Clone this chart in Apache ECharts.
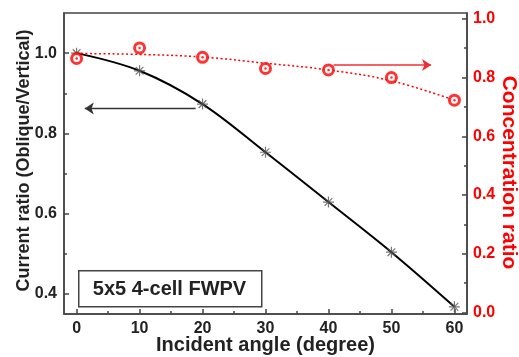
<!DOCTYPE html>
<html>
<head>
<meta charset="utf-8">
<script src="https://cdn.jsdelivr.net/npm/echarts@6/dist/echarts.min.js"></script>
<style>html,body{margin:0;padding:0;background:#fff;}#c{width:519px;height:357px;}</style>
</head>
<body>
<div id="c"></div>
<script>
// ---- data ----
var angles = [0, 10, 20, 30, 40, 50, 60];
var currentRatio = [1.0, 0.956, 0.873, 0.753, 0.629, 0.504, 0.368];
var concentrationRatio = [0.865, 0.901, 0.869, 0.831, 0.826, 0.800, 0.723];
var concentrationFit = [0.882, 0.879, 0.870, 0.849, 0.826, 0.789, 0.723];
var xMajorTicks = [0, 10, 20, 30, 40, 50, 60];
var xMinorTicks = [5, 15, 25, 35, 45, 55];
var leftMajorTicks = [0.4, 0.6, 0.8, 1.0];
var leftMinorTicks = [0.5, 0.7, 0.9];
var rightMajorTicks = [0.0, 0.2, 0.4, 0.6, 0.8, 1.0];
var rightMinorTicks = [0.1, 0.3, 0.5, 0.7, 0.9];
// annotation arrows: [x start, x end, y]
var currentArrow = [18.9, 1.3, 0.862];
var concentrationArrow = [40.8, 56.3, 0.843];
var boxLabel = '5x5 4-cell FWPV';

function pairs(xs, ys) { return xs.map(function (x, i) { return [x, ys[i]]; }); }

var FONT = '"Liberation Sans", Arial, sans-serif';
var AX = '#444';
var RED = '#ff0000';

var chart = echarts.init(document.getElementById('c'), null, {renderer: 'canvas'});
var starPath = 'path://M5,0 L5,10 M0,5 L10,5 M1.5,1.5 L8.5,8.5 M8.5,1.5 L1.5,8.5';

function labelStyle(color) {
  return {fontFamily: FONT, fontWeight: 'bold', fontSize: 16, color: color};
}
function line(show) {
  return {show: show, onZero: false, lineStyle: {color: AX, width: 1.5}};
}

chart.setOption({
  animation: false,
  backgroundColor: '#fff',
  grid: {left: 64, right: 52, top: 13, bottom: 43, outerBoundsMode: 'none', containLabel: false,
         show: true, borderColor: AX, borderWidth: 1.5, backgroundColor: 'transparent'},
  xAxis: [
    {
      type: 'value', min: -2, max: 62, position: 'bottom',
      name: 'Incident angle (degree)', nameLocation: 'middle', nameGap: 21, nameMoveOverlap: false,
      nameTextStyle: {fontFamily: FONT, fontWeight: 'bold', fontSize: 20, color: '#222'},
      axisLine: line(true),
      axisTick: {show: true, inside: true, length: 5, customValues: xMajorTicks, lineStyle: {color: AX, width: 1.5}},
      axisLabel: Object.assign({customValues: xMajorTicks, margin: 7, formatter: function (v) { return String(v); }}, labelStyle('#222')),
      splitLine: {show: false}
    },
    {
      type: 'value', min: -2, max: 62, position: 'bottom',
      axisLine: line(false),
      axisTick: {show: true, inside: true, length: 3, customValues: xMinorTicks, lineStyle: {color: AX, width: 1.5}},
      axisLabel: {show: false},
      splitLine: {show: false}
    }
  ],
  yAxis: [
    {
      type: 'value', min: 0.35, max: 1.1, position: 'left',
      name: 'Current ratio (Oblique/Vertical)', nameLocation: 'middle', nameGap: 31, nameRotate: 90, nameMoveOverlap: false,
      nameTextStyle: {fontFamily: FONT, fontWeight: 'bold', fontSize: 18, color: '#222', padding: [0, 0, 0, 6]},
      axisLine: line(true),
      axisTick: {show: true, inside: true, length: 5, customValues: leftMajorTicks, lineStyle: {color: AX, width: 1.5}},
      axisLabel: Object.assign({customValues: leftMajorTicks, margin: 7, formatter: function (v) { return v.toFixed(1); }}, labelStyle('#222')),
      splitLine: {show: false}
    },
    {
      type: 'value', min: -0.005, max: 1.02, position: 'right',
      name: 'Concentration ratio', nameLocation: 'middle', nameGap: 31, nameRotate: -90, nameMoveOverlap: false,
      nameTextStyle: {fontFamily: FONT, fontWeight: 'bold', fontSize: 21, color: RED, padding: [0, 0, 0, 18]},
      axisLine: line(true),
      axisTick: {show: true, inside: true, length: 5, customValues: rightMajorTicks, lineStyle: {color: AX, width: 1.5}},
      axisLabel: Object.assign({customValues: rightMajorTicks, margin: 6, formatter: function (v) { return v.toFixed(1); }}, labelStyle(RED)),
      splitLine: {show: false}
    },
    {
      type: 'value', min: 0.35, max: 1.1, position: 'left',
      axisLine: line(false),
      axisTick: {show: true, inside: true, length: 3, customValues: leftMinorTicks, lineStyle: {color: AX, width: 1.5}},
      axisLabel: {show: false}, splitLine: {show: false}
    },
    {
      type: 'value', min: -0.005, max: 1.02, position: 'right',
      axisLine: line(false),
      axisTick: {show: true, inside: true, length: 3, customValues: rightMinorTicks, lineStyle: {color: AX, width: 1.5}},
      axisLabel: {show: false}, splitLine: {show: false}
    }
  ],
  series: [
    {
      type: 'line', xAxisIndex: 0, yAxisIndex: 0, data: pairs(angles, currentRatio),
      smooth: 0.35, showSymbol: false, lineStyle: {color: '#000', width: 2}, z: 2, silent: true,
      markLine: {
        silent: true, symbol: ['none', 'arrow'], symbolSize: 9,
        label: {show: false},
        lineStyle: {color: '#333', width: 1.3, type: 'solid'},
        data: [[{coord: [currentArrow[0], currentArrow[2]]}, {coord: [currentArrow[1], currentArrow[2]]}]]
      }
    },
    {
      type: 'scatter', xAxisIndex: 0, yAxisIndex: 0, data: pairs(angles, currentRatio),
      symbol: starPath, symbolSize: 11, silent: true, z: 3,
      itemStyle: {color: 'none', borderColor: '#555', borderWidth: 1.2}
    },
    {
      type: 'line', xAxisIndex: 0, yAxisIndex: 1, data: pairs(angles, concentrationFit),
      smooth: 0.4, showSymbol: false, lineStyle: {color: RED, width: 1.5, type: [2, 2.5]}, z: 4, silent: true,
      markLine: {
        silent: true, symbol: ['none', 'arrow'], symbolSize: 9,
        label: {show: false},
        lineStyle: {color: '#f03030', width: 1.5, type: 'solid'},
        data: [[{coord: [concentrationArrow[0], concentrationArrow[2]]}, {coord: [concentrationArrow[1], concentrationArrow[2]]}]]
      }
    },
    {
      type: 'scatter', xAxisIndex: 0, yAxisIndex: 1, data: pairs(angles, concentrationRatio),
      symbol: 'circle', symbolSize: 10, silent: true, z: 5,
      itemStyle: {color: '#fff', borderColor: RED, borderWidth: 3}
    },
    {
      type: 'scatter', xAxisIndex: 0, yAxisIndex: 1, data: pairs(angles, concentrationRatio),
      symbol: 'circle', symbolSize: 2.5, silent: true, z: 6,
      itemStyle: {color: RED}
    }
  ],
  graphic: [
    {
      type: 'rect', z: 100, left: 78, top: 270,
      shape: {width: 183, height: 36},
      style: {fill: '#fff', stroke: AX, lineWidth: 1.5}
    },
    {
      type: 'text', z: 101, x: 169.5, y: 289,
      style: {text: boxLabel, fontFamily: FONT, fontWeight: 'bold', fontSize: 20, fill: '#222', align: 'center', verticalAlign: 'middle'}
    }
  ]
});
</script>
</body>
</html>
